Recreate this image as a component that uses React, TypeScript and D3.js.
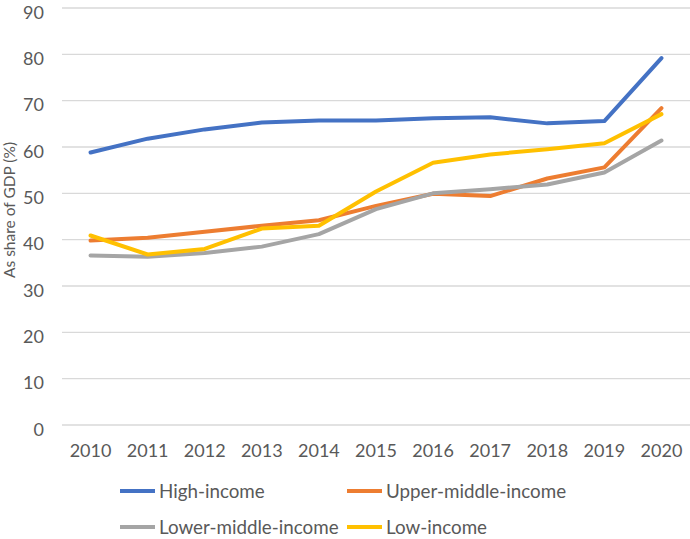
import React from "react";
import * as d3 from "d3";

const years = ["2010","2011","2012","2013","2014","2015","2016","2017","2018","2019","2020"];
const highIncome = [58.8, 61.8, 63.8, 65.3, 65.7, 65.7, 66.2, 66.4, 65.1, 65.6, 79.2];
const upperMiddle = [39.8, 40.4, 41.7, 43.0, 44.2, 47.3, 49.9, 49.4, 53.2, 55.6, 68.4];
const lowerMiddle = [36.6, 36.3, 37.1, 38.5, 41.2, 46.6, 50.0, 50.9, 51.9, 54.5, 61.4];
const lowIncome = [40.9, 36.8, 38.0, 42.4, 43.0, 50.4, 56.6, 58.4, 59.5, 60.8, 67.1];
const yTicks = [0, 10, 20, 30, 40, 50, 60, 70, 80, 90];
const seriesNames = ["High-income", "Upper-middle-income", "Lower-middle-income", "Low-income"];
const seriesColors = ["#4472C4", "#ED7D31", "#A5A5A5", "#FFC000"];

const W = 690, H = 539;
const left = 62, right = 690, top = 8, bottom = 425;
const font = "Lato, 'Open Sans', sans-serif";

export default function App() {
  const x = d3.scaleBand<string>().domain(years).range([left, right]);
  const y = d3.scaleLinear().domain([0, 90]).range([bottom, top]);
  const data = [highIncome, upperMiddle, lowerMiddle, lowIncome];
  const line = d3.line<number>()
    .x((_, i) => (x(years[i]) as number) + x.bandwidth() / 2)
    .y((d) => y(d));
  const legendPos = [
    { lx: 120, ly: 491 },
    { lx: 347, ly: 491 },
    { lx: 120, ly: 527 },
    { lx: 347, ly: 527 },
  ];
  return (
    <svg width={W} height={H} style={{ position: "absolute", left: 0, top: 0, background: "#fff" }} fontFamily={font}>
      <rect width={W} height={H} fill="#fff" />
      {yTicks.map((t) => (
        <g key={t}>
          <line x1={left} x2={right} y1={y(t)} y2={y(t)} stroke="#D9D9D9" strokeWidth={1.3} />
          <text x={44} y={y(t) + 4.5} dy="0.35em" textAnchor="end" fontSize={18} fill="#595959">{t}</text>
        </g>
      ))}
      {years.map((yr) => (
        <text key={yr} x={(x(yr) as number) + x.bandwidth() / 2} y={457} textAnchor="middle" fontSize={18} fill="#595959">{yr}</text>
      ))}
      <text transform={`translate(15,210) rotate(-90)`} textAnchor="middle" fontSize={15.5} fill="#595959">As share of GDP (%)</text>
      {data.map((d, i) => (
        <path key={i} d={line(d) || ""} fill="none" stroke={seriesColors[i]} strokeWidth={4} strokeLinejoin="round" strokeLinecap="round" />
      ))}
      {seriesNames.map((n, i) => (
        <g key={n}>
          <line x1={legendPos[i].lx} x2={legendPos[i].lx + 35} y1={legendPos[i].ly} y2={legendPos[i].ly} stroke={seriesColors[i]} strokeWidth={4} />
          <text x={legendPos[i].lx + 39} y={legendPos[i].ly} dy="0.35em" fontSize={18.8} fill="#595959">{n}</text>
        </g>
      ))}
    </svg>
  );
}
